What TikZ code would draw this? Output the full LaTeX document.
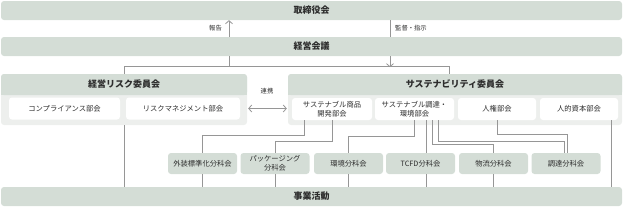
\documentclass[tikz,border=0pt]{standalone}
\usepackage{fontspec}
\setmainfont{Noto Sans CJK JP}
\usepackage{xcolor}
\usetikzlibrary{arrows.meta, positioning, calc}

\definecolor{barfill}{RGB}{212,221,214}
\definecolor{panelfill}{RGB}{237,239,237}
\definecolor{linegray}{RGB}{150,150,150}
\definecolor{textgray}{RGB}{45,45,45}

\begin{document}
\begin{tikzpicture}[
    x=1pt, y=-1pt,
    bar/.style={fill=barfill, rounded corners=3pt, minimum width=621pt, minimum height=19pt, inner sep=0pt, font=\fontsize{9}{10}\selectfont\bfseries, text=textgray},
    panel/.style={fill=panelfill, rounded corners=3pt, minimum height=51pt, inner sep=0pt},
    head/.style={fill=barfill, rounded corners=3pt, minimum height=21pt, inner sep=0pt, font=\fontsize{9}{10}\selectfont\bfseries, text=textgray},
    sub/.style={fill=white, rounded corners=3pt, minimum height=22pt, inner sep=0pt, align=center, font=\fontsize{7.3}{8.6}\selectfont, text=textgray},
    wg/.style={fill=barfill, rounded corners=3pt, minimum width=69pt, minimum height=21pt, inner sep=0pt, align=center, font=\fontsize{7.3}{8.6}\selectfont, text=textgray},
    note/.style={font=\fontsize{6.3}{7}\selectfont, text=textgray, inner sep=0pt},
    link/.style={draw=linegray, line width=0.8pt},
    arr/.style={link, -{Straight Barb[length=3pt, width=7pt]}},
    both/.style={link, {Straight Barb[length=3pt, width=7pt]}-{Straight Barb[length=3pt, width=7pt]}},
]
\useasboundingbox (0,0) rectangle (624,207);

% Top bars
\node[bar] (board) at (311.5,10.5) {取締役会};
\node[bar] (kaigi) at (311.5,46.5) {経営会議};
\node[bar] (biz) at (311.5,196.5) {事業活動};

\coordinate (up) at (229,0);
\coordinate (down) at (390,0);

\draw[arr] (kaigi.north -| up) -- (board.south -| up);
\draw[link] (board.south -| down) -- (kaigi.north -| down);
\node[note, anchor=east] (rep) at (222,28) {報告};
\node[note, anchor=west] (sup) at (395,28) {監督・指示};

% Committees
\node[panel, minimum width=246pt] (risk) at (124,99.5) {};
\node[head, minimum width=246pt, anchor=north] (riskhead) at (risk.north) {};
\fill[barfill] (riskhead.west) rectangle (riskhead.south east);
\node[font=\fontsize{9}{10}\selectfont\bfseries, text=textgray] at (riskhead) {経営リスク委員会};

\node[panel, minimum width=334pt] (sus) at (455,99.5) {};
\node[head, minimum width=334pt, anchor=north] (sushead) at (sus.north) {};
\fill[barfill] (sushead.west) rectangle (sushead.south east);
\node[font=\fontsize{9}{10}\selectfont\bfseries, text=textgray] at (sushead) {サステナビリティ委員会};

\node[sub, minimum width=111pt] (comp) at (64.5,108.5) {コンプライアンス部会};
\node[sub, minimum width=114pt] (rm) at (183,108.5) {リスクマネジメント部会};
\node[sub, minimum width=80pt] (prod) at (332,109) {サステナブル商品\\開発部会};
\node[sub, minimum width=79pt] (proc) at (414.5,109) {サステナブル調達・\\環境部会};
\node[sub, minimum width=78pt] (jinken) at (497,109) {人権部会};
\node[sub, minimum width=78pt] (human) at (579,109) {人的資本部会};

\draw[link] (kaigi.south -| up) -- ++(0,11);
\draw[arr] (kaigi.south -| down) -- ++(0,11);
\draw[link] (risk.north) -- ++(0,-7) -| ([xshift=-6pt]sus.north);

\draw[both] ([xshift=1pt]risk.east |- rm) -- ([xshift=-1pt]sus.west |- rm);
\node[note] (renkei) at (267,91) {連携};

% Working groups
\node[wg] (gaiso) at (202.5,163.5) {外装標準化分科会};
\node[wg] (pkg) at (275,163.5) {パッケージング\\分科会};
\node[wg] (env) at (348.5,163.5) {環境分科会};
\node[wg] (tcfd) at (420.5,163.5) {TCFD分科会};
\node[wg] (logi) at (493.5,163.5) {物流分科会};
\node[wg] (buy) at (566,163.5) {調達分科会};

% Links
\draw[link] ([xshift=-28pt]prod.south) -- ++(0,15) -| (gaiso.north);
\draw[link] (prod.south) -- ++(0,21) -| (pkg.north);
\draw[link] (proc.south) -- ++(0,16) -| (env.north);
\draw[link] ([xshift=11.5pt]proc.south) -- ([xshift=11.5pt]proc.south |- tcfd.north);
\draw[link] ([xshift=17.5pt]proc.south) -- ++(0,24) -| (logi.north);
\draw[link] ([xshift=23.5pt]proc.south) -- ++(0,21) -| ([xshift=-2pt]buy.north);
\draw[link] (jinken.south) -- ++(0,14) -| ([xshift=1pt]buy.north);

\draw[link] (risk.south) -- (risk.south |- biz.north);
\draw[link] ([xshift=32pt]human.south) -- ([xshift=32pt]human.south |- biz.north);
\draw[link] (gaiso.south) -- (gaiso.south |- biz.north);
\draw[link] (pkg.south) -- (pkg.south |- biz.north);
\draw[link] (env.south) -- (env.south |- biz.north);
\draw[link] ([xshift=5.5pt]tcfd.south) -- ([xshift=5.5pt]tcfd.south |- biz.north);
\draw[link] (logi.south) -- (logi.south |- biz.north);

\end{tikzpicture}
\end{document}
